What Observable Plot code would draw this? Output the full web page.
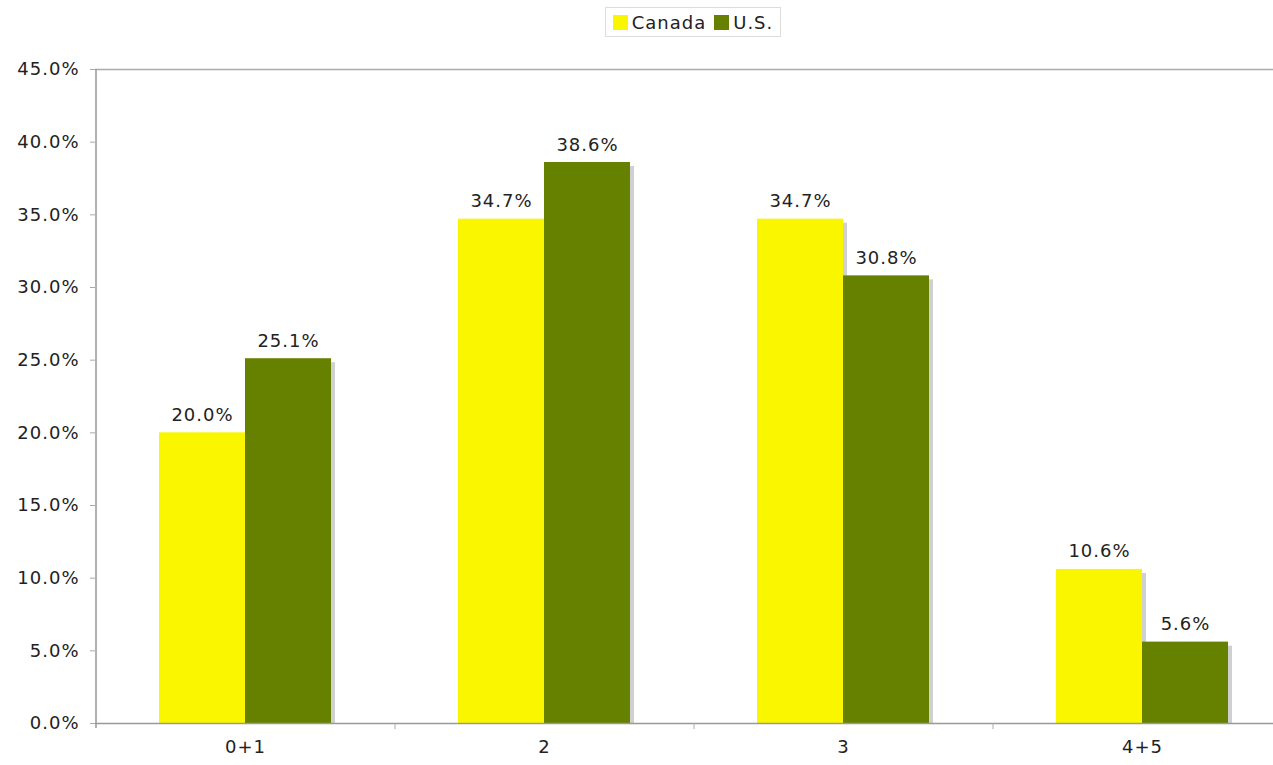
<!DOCTYPE html>
<html>
<head>
<meta charset="utf-8">
<script src="https://cdn.jsdelivr.net/npm/d3@7"></script>
<script src="https://cdn.jsdelivr.net/npm/@observablehq/plot@0.6"></script>
<style>
  html, body { margin: 0; padding: 0; background: #fff; overflow: hidden; }
  #wrap { width: 1273px; height: 765px; overflow: hidden; position: relative; }
  #legend { height: 45px; width: 1273px; position: relative; font-family: "DejaVu Sans", Verdana, sans-serif; font-size: 18px; letter-spacing: 1px; color: #222; }
  #legend .box { position: absolute; top: 7px; height: 30px; border: 1px solid #ddd; display: flex; align-items: center; padding: 0 7px; box-sizing: border-box; white-space: nowrap; }
  #legend .sw { display: inline-block; width: 15px; height: 15px; margin-right: 4px; }
  #legend .item { display: inline-flex; align-items: center; margin-right: 8px; }
  #legend .item:last-child { margin-right: 0; }
  #chart svg { max-width: none !important; }
</style>
</head>
<body>
<div id="wrap">
  <div id="legend"></div>
  <div id="chart"></div>
</div>
<script>
const categories = ["0+1", "2", "3", "4+5"];
const seriesNames = ["Canada", "U.S."];
const canada = [20.0, 34.7, 34.7, 10.6];
const us = [25.1, 38.6, 30.8, 5.6];
const yTicks = [0, 5, 10, 15, 20, 25, 30, 35, 40, 45];
const colors = ["#faf600", "#668000"];

const canadaData = categories.map((c, i) => ({category: c, value: canada[i]}));
const usData = categories.map((c, i) => ({category: c, value: us[i]}));
const fmt = d => d.toFixed(1) + "%";

// Legend
const legend = document.getElementById("legend");
const box = document.createElement("div");
box.className = "box";
seriesNames.forEach((name, i) => {
  const item = document.createElement("span");
  item.className = "item";
  const sw = document.createElement("span");
  sw.className = "sw";
  sw.style.background = colors[i];
  item.appendChild(sw);
  item.appendChild(document.createTextNode(name));
  box.appendChild(item);
});
legend.appendChild(box);

const shadow = "#d0d0d0";
const plot = Plot.plot({
  width: 1291,
  height: 720,
  marginLeft: 95,
  marginRight: 0,
  marginTop: 24,
  marginBottom: 42,
  style: {fontFamily: "DejaVu Sans, Verdana, sans-serif", fontSize: "18px", letterSpacing: "1px", color: "#222", background: "white", maxWidth: "none"},
  x: {domain: categories, paddingInner: 127 / 299, paddingOuter: 63.5 / 299, axis: null, label: null},
  y: {domain: [0, 45], axis: null, label: null},
  marks: [
    // shadows
    Plot.barY(canadaData, {x: "category", y: "value", fill: shadow, insetRight: 86, insetTop: 4, dx: 4}),
    Plot.barY(usData, {x: "category", y: "value", fill: shadow, insetLeft: 86, insetTop: 4, dx: 4}),
    // bars
    Plot.barY(canadaData, {x: "category", y: "value", fill: colors[0], insetRight: 86}),
    Plot.barY(usData, {x: "category", y: "value", fill: colors[1], insetLeft: 86}),
    // value labels
    Plot.text(canadaData, {x: "category", y: "value", text: d => fmt(d.value), dx: -43, dy: -12, lineAnchor: "bottom", fill: "#222"}),
    Plot.text(usData, {x: "category", y: "value", text: d => fmt(d.value), dx: 43, dy: -12, lineAnchor: "bottom", fill: "#222"}),
    // frame lines
    Plot.ruleY([0], {stroke: "#999", strokeWidth: 1.5}),
    Plot.ruleY([45], {stroke: "#aaa", strokeWidth: 1.5}),
    Plot.ruleX([categories[0]], {x: d => d, dx: -149.5, y1: 45, y2: 0, insetBottom: -5, stroke: "#999", strokeWidth: 1.5}),
    // category boundary ticks
    Plot.ruleX(categories.slice(1), {x: d => d, dx: -149.5, y1: 0, y2: 0, insetBottom: -6, stroke: "#aaa", strokeWidth: 1}),
    Plot.axisY(yTicks, {tickSize: 5, tickPadding: 11, stroke: "#aaa", fill: "#222", tickFormat: fmt, label: null}),
    Plot.axisX(categories, {tickSize: 0, tickPadding: 17, fill: "#222", label: null})
  ]
});
document.getElementById("chart").appendChild(plot);

// center legend over the plot area
const bw = box.getBoundingClientRect().width;
box.style.left = (693 - bw / 2) + "px";
</script>
</body>
</html>
